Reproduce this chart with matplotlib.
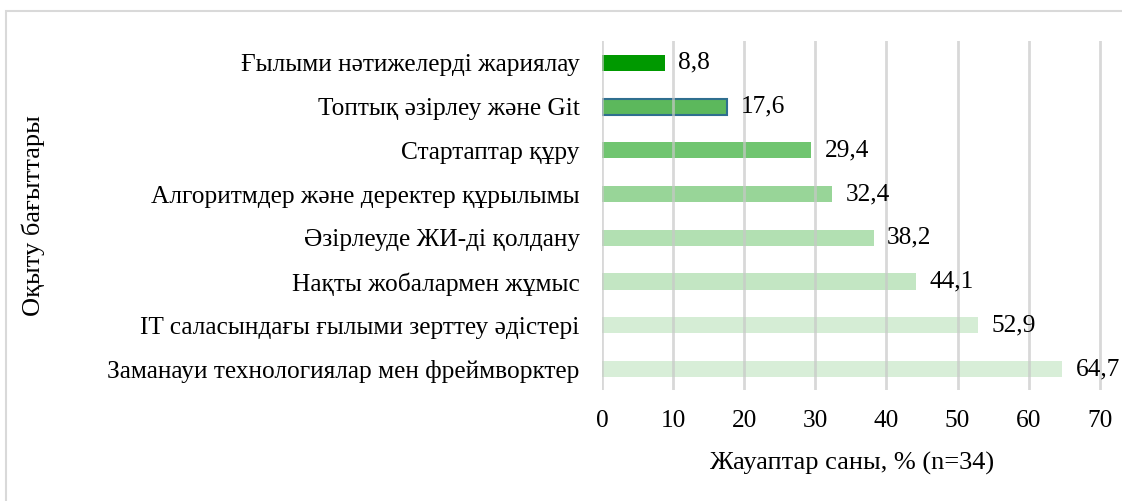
import matplotlib.pyplot as plt
from matplotlib.patches import Rectangle

plt.rcParams["font.family"] = ["Liberation Serif", "DejaVu Serif"]

categories = [
    "Заманауи технологиялар мен фреймворктер",
    "IT саласындағы ғылыми зерттеу әдістері",
    "Нақты жобалармен жұмыс",
    "Әзірлеуде ЖИ-ді қолдану",
    "Алгоритмдер және деректер құрылымы",
    "Стартаптар құру",
    "Топтық әзірлеу және Git",
    "Ғылыми нәтижелерді жариялау",
]
values = [64.7, 52.9, 44.1, 38.2, 32.4, 29.4, 17.6, 8.8]
value_labels = ["64,7", "52,9", "44,1", "38,2", "32,4", "29,4", "17,6", "8,8"]
colors = ["#d8eed8", "#d5edd5", "#c3e6c3", "#b2e0b2", "#98d598", "#70c570", "#5cb85c", "#009900"]

fs = 18.3
fs_title = 19

fig = plt.figure(figsize=(11.22, 5.01), dpi=100)
# light outer frame
fig.add_artist(Rectangle((6 / 1122, -0.01), 1.1, (501 - 11) / 501 + 0.01,
                         transform=fig.transFigure, fill=False,
                         edgecolor="#d9d9d9", linewidth=1.5))

ax = fig.add_axes([602 / 1122, 1 - 390 / 501, 500 / 1122, 349 / 501])
y = list(range(len(categories)))
bars = ax.barh(y, values, height=0.37, color=colors, zorder=2)
bars[6].set_edgecolor("#2f6f8f")
bars[6].set_linewidth(1.5)

for yi, v, lab in zip(y, values, value_labels):
    ax.text(v + 1.9, yi, lab, va="center", ha="left", fontsize=fs, zorder=4,
            clip_on=False)

ax.set_xlim(0, 70.3)
ax.set_ylim(-0.48, 7.5)
ax.set_xticks(range(0, 71, 10))
ax.set_yticks(y)
ax.set_yticklabels(categories, fontsize=fs)
ax.tick_params(axis="x", labelsize=fs, length=0, pad=14.5)
ax.tick_params(axis="y", length=0, pad=16)
ax.grid(axis="x", color="#c8c8c8", linewidth=2, alpha=0.7, zorder=3)
ax.set_axisbelow(False)
for s in ax.spines.values():
    s.set_visible(False)

ax.set_xlabel("Жауаптар саны, % (n=34)", fontsize=fs_title, labelpad=14)
fig.text(33 / 1122, 1 - 216 / 501, "Оқыту бағыттары", rotation=90,
         ha="center", va="center", fontsize=fs_title)

fig.savefig("out.png", dpi=100)
